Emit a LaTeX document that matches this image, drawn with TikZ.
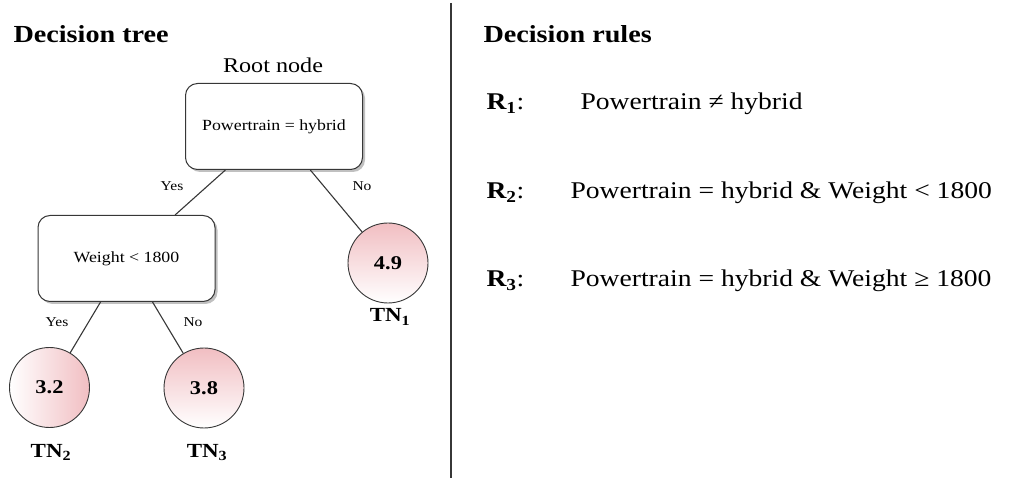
\documentclass[tikz,border=0pt]{standalone}
\usepackage{fontspec}
\setmainfont[FakeStretch=1.15]{Liberation Serif}
\usetikzlibrary{shadows}
\definecolor{leafpink}{RGB}{241,190,194}
\definecolor{rimgray}{RGB}{55,55,55}
\newcommand{\fsz}[1]{\fontsize{#1}{#1}\selectfont}

\begin{document}
\begin{tikzpicture}[x=1pt,y=-1pt]
    \useasboundingbox (0,0) rectangle (1029,478);
    \tikzstyle{test}=[draw=rimgray, line width=1pt, rounded corners=12pt, fill=white,
      minimum width=177pt, minimum height=86pt, inner sep=0pt, font=\fsz{15.5},
      drop shadow={shadow xshift=2.5pt, shadow yshift=-2.5pt, fill=black!45, opacity=0.55}]
    \tikzstyle{leaf}=[circle, draw=rimgray, line width=0.9pt, minimum size=80pt,
      inner sep=0pt, font=\fsz{19.5}\bfseries]
    \tikzstyle{leafh}=[leaf, left color=white, right color=leafpink]
    \tikzstyle{leafv}=[leaf, top color=leafpink, bottom color=white]
    \tikzstyle{ans}=[font=\fsz{13.5}]
    \tikzstyle{tn}=[anchor=base, font=\fsz{20}\bfseries]
    \tikzstyle{edge}=[draw=rimgray, line width=1.1pt]
    \tikzstyle{head}=[anchor=base west, font=\fsz{24.5}\bfseries]
    \tikzstyle{rule}=[anchor=base west, font=\fsz{24}]
    % headings and separator
    \node[head] (treehead) at (10,43) {Decision tree};
    \node[head] (rulehead) at (480,43) {Decision rules};
    \draw[line width=2pt, rimgray] (451,3) -- (451,478);
    % tree
    \node[anchor=base, font=\fsz{21}] (rootlbl) at (273,73) {Root node};
    \node[test] (root) at (274,126.5) {Powertrain = hybrid};
    \node[test] (weight) at (126.5,258.5) {Weight < 1800};
    \node[leafv] (tn1) at (388,263) {4.9};
    \node[leafh] (tn2) at (49.5,387.5) {3.2};
    \node[leafv] (tn3) at (204,388) {3.8};
    \draw[edge] (root) -- (weight); \draw[edge] (root) -- (tn1);
    \draw[edge] (weight) -- (tn2); \draw[edge] (weight) -- (tn3);
    \node[ans] (yes1) at (172,186) {Yes};
    \node[ans] (no1) at (362,186) {No};
    \node[ans] (yes2) at (57,322) {Yes};
    \node[ans] (no2) at (193,322) {No};
    \node[tn] (tn1lbl) at (390,322) {TN\textsubscript{1}};
    \node[tn] (tn2lbl) at (51,457) {TN\textsubscript{2}};
    \node[tn] (tn3lbl) at (207,457) {TN\textsubscript{3}};
    % rules
    \node[rule] (r1) at (483,110) {\textbf{R\textsubscript{1}}:};
    \node[rule] (r2) at (483,199) {\textbf{R\textsubscript{2}}:};
    \node[rule] (r3) at (483,287) {\textbf{R\textsubscript{3}}:};
    \node[rule] (r1txt) at (577,110) {Powertrain ≠ hybrid};
    \node[rule] (r2txt) at (567,199) {Powertrain = hybrid \& Weight < 1800};
    \node[rule] (r3txt) at (567,287) {Powertrain = hybrid \& Weight ≥ 1800};
\end{tikzpicture}
\end{document}
